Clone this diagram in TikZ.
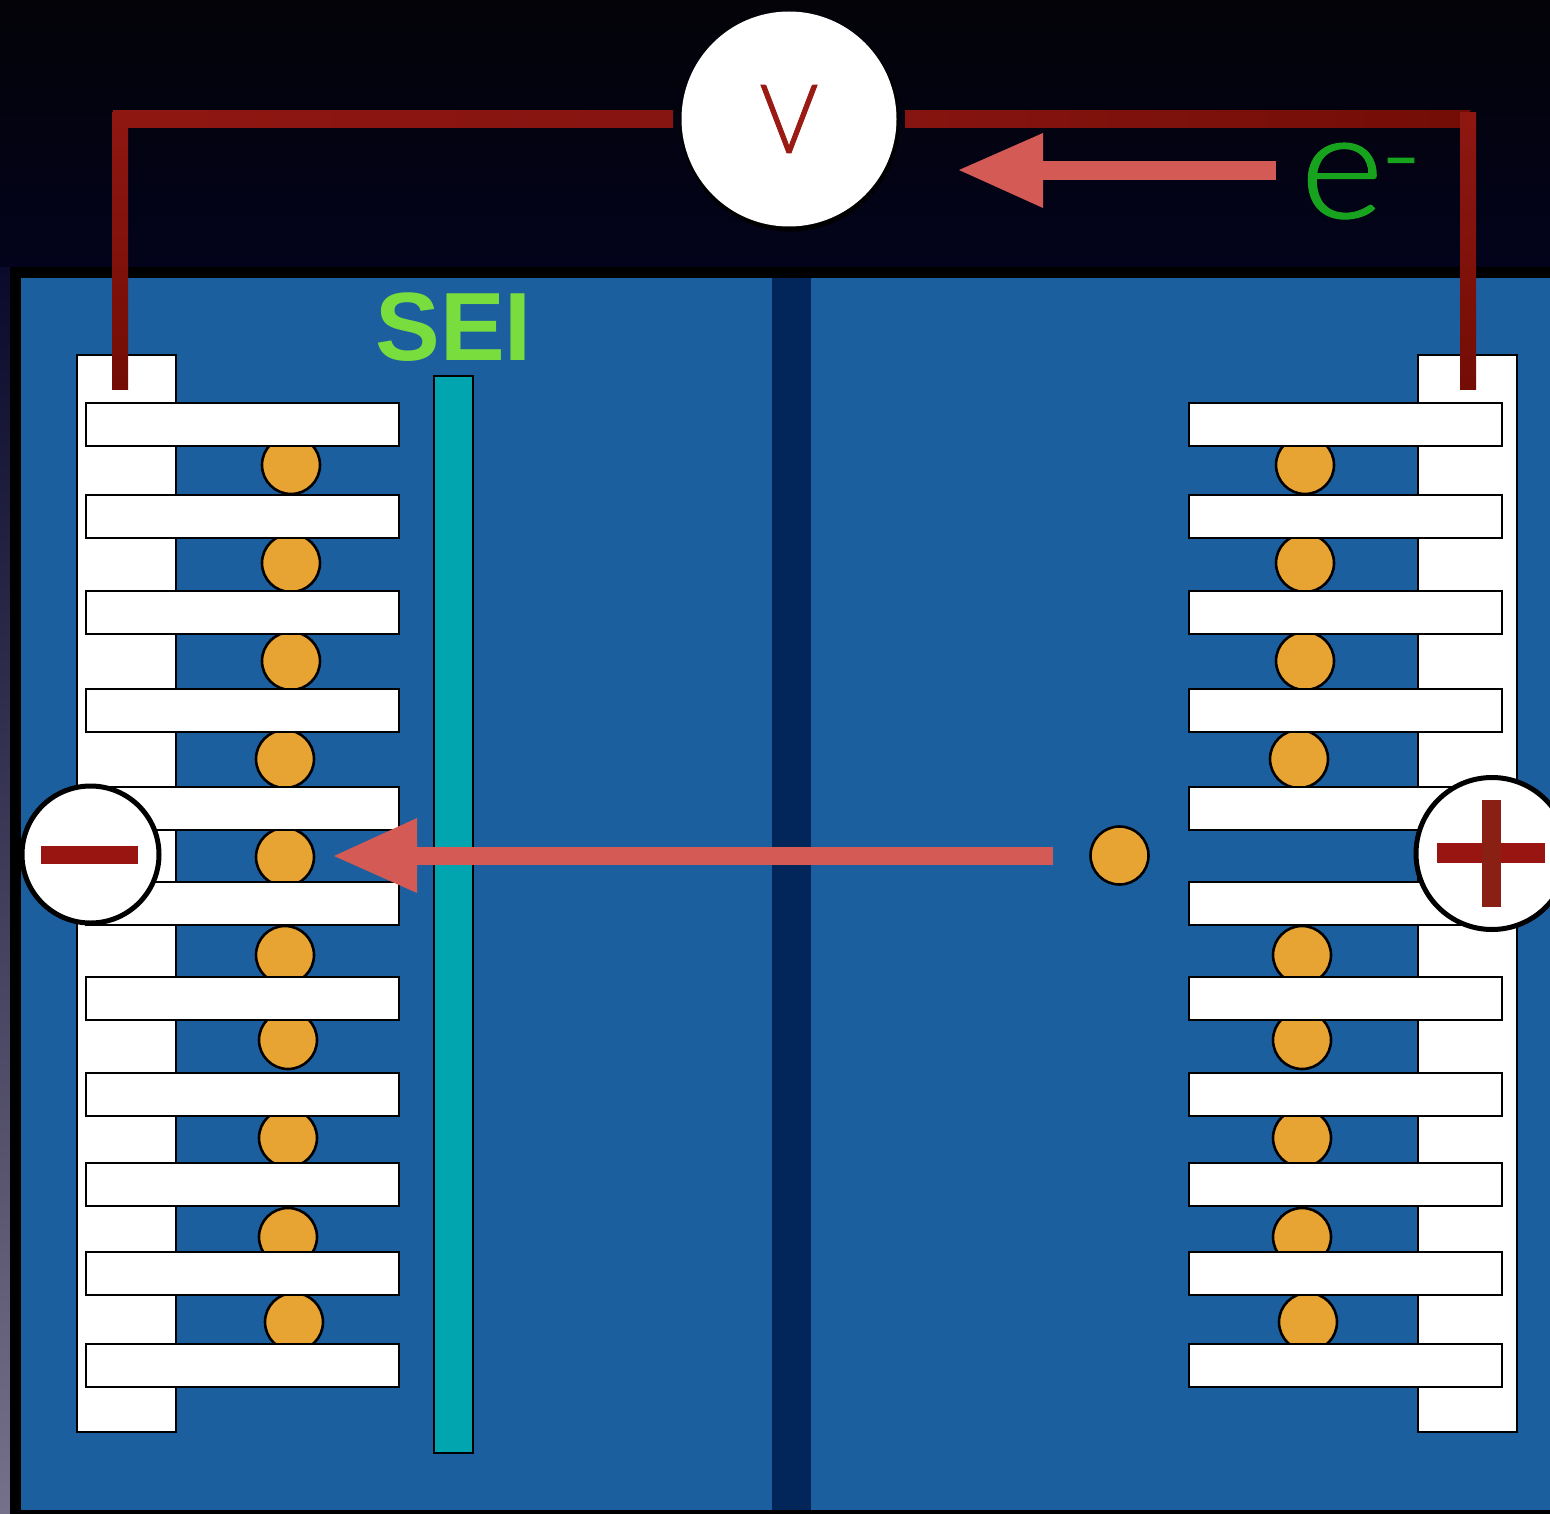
\documentclass[tikz,border=0pt]{standalone}
\usepackage{graphicx}
\usepackage{fontspec}
\setmainfont{Liberation Sans}
\newfontfamily\thinfont[FakeBold=1]{Lato Light}
\definecolor{cellblue}{HTML}{1C5F9E}
\definecolor{sepblue}{HTML}{02265A}
\definecolor{seiteal}{HTML}{00A5B0}
\definecolor{ballor}{HTML}{E8A433}
\definecolor{wireL}{HTML}{8F1712}
\definecolor{wireM}{HTML}{861410}
\definecolor{wireR}{HTML}{730D05}
\definecolor{textred}{HTML}{9A1A14}
\definecolor{arrowred}{HTML}{D35A55}
\definecolor{seigreen}{HTML}{7ADD3E}
\definecolor{egreen}{HTML}{17A31E}
\definecolor{signred}{HTML}{981512}
\definecolor{signbrown}{HTML}{8A2014}
\definecolor{bandtop}{HTML}{030308}
\definecolor{bandbot}{HTML}{03031C}
\definecolor{stripT}{HTML}{0A0A2C}
\definecolor{stripM}{HTML}{443B60}
\definecolor{stripB}{HTML}{76718A}
\tikzset{
  spine/.style={draw=black,line width=2.6pt,fill=white,minimum width=99pt,minimum height=1077pt,inner sep=0pt},
  tooth/.style={draw=black,line width=2.6pt,fill=white,minimum width=313pt,minimum height=43pt,inner sep=0pt},
  ball/.style={circle,draw=black,line width=2.6pt,fill=ballor,minimum size=58pt,inner sep=0pt},
  hwire/.style={line width=17.5pt},
  vwire/.style={line width=16pt}
}
\begin{document}
\begin{tikzpicture}[x=1pt,y=-1pt]
\useasboundingbox (0,0) rectangle (1550,1514);
% background
\fill[top color=bandtop,bottom color=bandbot] (0,0) rectangle (1550,270);
\fill[top color=stripT,middle color=stripM,bottom color=stripB] (0,268) rectangle (11,1514);
\fill[black] (10,267) rectangle (1550,1514);
\fill[cellblue] (21,278) rectangle (1550,1510);
\fill[sepblue] (772,278) rectangle (811,1510);
% electrodes
\node[spine] (sl) at (126.5,893.5) {};
\node[spine] (sr) at (1467.5,893.5) {};
% lithium
\foreach \n/\x/\y in {a/291/465,b/291/563,c/291/661,d/285/759,e/285/857,f/285/955,g/288/1040,h/288/1138,i/288/1237,j/294/1322}
  \node[ball] (l\n) at (\x,\y) {};
\foreach \n/\x/\y in {a/1305/465,b/1305/563,c/1305/661,d/1299/759,f/1302/955,g/1302/1040,h/1302/1138,i/1302/1237,j/1308/1322}
  \node[ball] (r\n) at (\x,\y) {};
\node[ball] (free) at (1119.5,855.5) {};
% teeth
\foreach \n/\y in {1/424.5,2/516.5,3/612.5,4/710.5,5/808.5,6/903.5,7/998.5,8/1094.5,9/1184.5,10/1273.5,11/1365.5}{
  \node[tooth] (tl\n) at (242.5,\y) {};
  \node[tooth] (tr\n) at (1345.5,\y) {};
}
% SEI
\node[draw=black,line width=2.6pt,fill=seiteal,minimum width=39pt,minimum height=1077pt,inner sep=0pt] (sei) at (453.5,914.5) {};
\node[text=seigreen,inner sep=0pt,font=\bfseries\fontsize{97}{97}\selectfont] (seilabel) at (453.5,327) {SEI};
% voltmeter and wires
\coordinate (cl) at (113,119);
\coordinate (cr) at (1470,119);
\coordinate (tl) at (120,389);
\coordinate (tr) at (1468,389);
\coordinate (wl) at (673,119);
\coordinate (wr) at (905,119);
\node[circle,fill=black,minimum size=219pt,inner sep=0pt] (vshadow) at (790,122) {};
\node[circle,fill=white,minimum size=215pt,inner sep=0pt,text=textred,font=\thinfont\fontsize{96}{96}\selectfont] (vm) at (789,119) {\scalebox{.93}[1]{V}};
\draw[hwire,draw=wireL] (wl) -- (cl);
\draw[hwire,draw=wireR] (wr) -- (cr);
\shade[left color=wireL,right color=wireM] (wl|-0,110.25) rectangle (cl|-0,127.75);
\shade[left color=wireM,right color=wireR] (wr|-0,110.25) rectangle (cr|-0,127.75);
\draw[vwire,draw=wireM] (120,113) -- (tl);
\draw[vwire,draw=wireM] (1468,113) -- (tr);
\shade[top color=wireL,bottom color=wireR] (112,113) rectangle (128,389);
\shade[top color=wireL,bottom color=wireR] (1460,113) rectangle (1476,389);
% electron flow
\fill[arrowred] (1276,161) rectangle (1043,180);
\fill[arrowred] (1043,133) -- (959,170) -- (1043,208) -- cycle;
\node[text=egreen,inner sep=0pt,anchor=base west,font=\thinfont\fontsize{148}{148}\selectfont] (elabel) at (1300,218) {\scalebox{1.08}[1]{e}\kern-3pt\raisebox{25pt}{\fontsize{110}{110}\selectfont -}};
% ion flow
\fill[arrowred] (1053,847) rectangle (417,865);
\fill[arrowred] (417,818) -- (334,856) -- (417,893) -- cycle;
% signs
\node[circle,draw=black,line width=5pt,fill=white,minimum size=137pt,inner sep=0pt] (neg) at (90.5,854.5) {};
\fill[signred] (41,846) rectangle (138,864);
\node[circle,draw=black,line width=5pt,fill=white,minimum size=152pt,inner sep=0pt] (pos) at (1492,853.5) {};
\fill[signred] (1437,843) rectangle (1545,863);
\fill[signbrown] (1482,800) rectangle (1501,907);
\end{tikzpicture}
\end{document}
